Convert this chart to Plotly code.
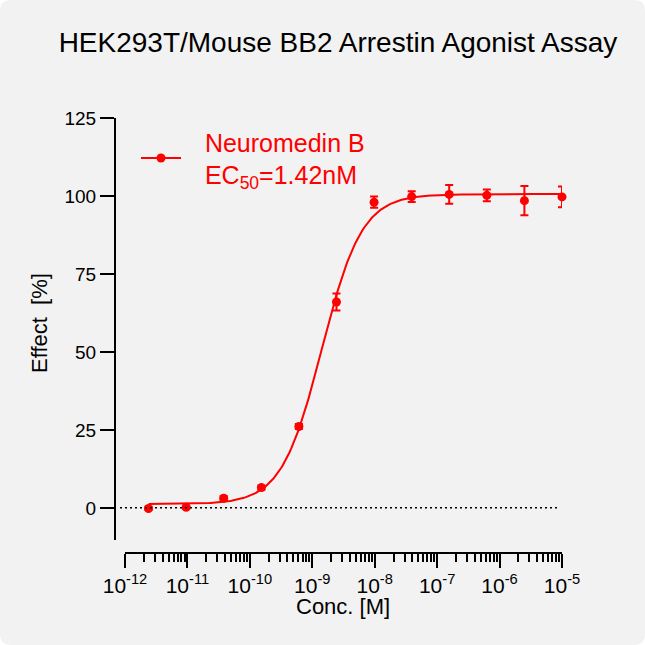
import numpy as np
import plotly.graph_objects as go

W = H = 645

# concentrations (M), 4-fold dilution series
conc = [2.38e-12, 9.54e-12, 3.81e-11, 1.53e-10, 6.10e-10, 2.44e-9,
        9.77e-9, 3.91e-8, 1.56e-7, 6.25e-7, 2.50e-6, 1.00e-5]
effect = [-0.2, 0.2, 3.1, 6.5, 26.1, 66.0, 98.0, 99.8, 100.5, 100.2, 98.5, 99.7]
effect_err = [0.5, 0.5, 0.7, 0.7, 0.8, 2.7, 1.8, 1.7, 3.0, 1.9, 4.7, 3.3]

# 4PL fit parameters (EC50 from the legend)
fit_bottom = 1.2
fit_top = 100.6
fit_ec50 = 1.42e-9
fit_hill = 1.35

pad = "\u00a0\u00a0\u2009"
legend_name = pad + "Neuromedin B<br>" + pad + "EC<sub>50</sub>=1.42nM"
y_ticks = [0, 25, 50, 75, 100, 125]
x_ticks = [1e-12, 1e-11, 1e-10, 1e-9, 1e-8, 1e-7, 1e-6, 1e-5]
x_ticktext = ["10<sup>-12</sup>", "10<sup>-11</sup>", "10<sup>-10</sup>",
              "10<sup>-9</sup>", "10<sup>-8</sup>", "10<sup>-7</sup>",
              "10<sup>-6</sup>", "10<sup>-5</sup>"]

RED = "#ff0000"
FONT = "Arial, Liberation Sans, sans-serif"


def px(x):
    # pixel -> paper x (margins are zero)
    return x / W


def py(y):
    # pixel -> paper y
    return 1 - y / H


x_fit = np.logspace(np.log10(conc[0]), np.log10(conc[-1]), 300)
y_fit = fit_bottom + (fit_top - fit_bottom) / (
    1 + 10 ** ((np.log10(fit_ec50) - np.log10(x_fit)) * fit_hill))

fig = go.Figure()

fig.add_trace(go.Scatter(
    x=x_fit, y=y_fit, mode="lines", cliponaxis=False,
    line=dict(color=RED, width=2), showlegend=False, hoverinfo="skip"))

fig.add_trace(go.Scatter(
    x=conc, y=effect, mode="markers", cliponaxis=False,
    marker=dict(color=RED, size=9),
    error_y=dict(type="data", array=effect_err, color=RED, thickness=2, width=4),
    showlegend=False))

# legend entry only
fig.add_trace(go.Scatter(
    x=[None], y=[None], mode="lines+markers", name=legend_name,
    line=dict(color=RED, width=2), marker=dict(color=RED, size=9)))

# rounded card background
r = 11
x0, y0, x1, y1 = px(0), py(0), px(W), py(H)
rx, ry = r / W, r / H
card = (f"M {x0+rx},{y0} L {x1-rx},{y0} Q {x1},{y0} {x1},{y0-ry} "
        f"L {x1},{y1+ry} Q {x1},{y1} {x1-rx},{y1} "
        f"L {x0+rx},{y1} Q {x0},{y1} {x0},{y1+ry} "
        f"L {x0},{y0-ry} Q {x0},{y0} {x0+rx},{y0} Z")

fig.update_layout(
    template="none",
    width=W, height=H,
    margin=dict(l=0, r=0, t=0, b=0, autoexpand=False),
    paper_bgcolor="white",
    plot_bgcolor="rgba(0,0,0,0)",
    font=dict(family=FONT, color="black"),
    title=dict(text="HEK293T/Mouse BB2 Arrestin Agonist Assay",
               font=dict(size=28, color="black"),
               xref="container", yref="container",
               x=338 / W, y=1 - 42 / H, xanchor="center", yanchor="middle"),
    shapes=[
        dict(type="path", path=card, xref="paper", yref="paper",
             fillcolor="#f2f2f2", line=dict(width=0), layer="below"),
        dict(type="line", xref="paper", yref="y", x0=px(120), x1=px(560),
             y0=0, y1=0, line=dict(color="black", width=1.5, dash="2px,3px")),
    ],
    legend=dict(x=px(136), y=py(119), xanchor="left", yanchor="top",
                bgcolor="rgba(0,0,0,0)", font=dict(size=25, color=RED),
                itemwidth=40),
    annotations=[
        dict(text="Effect\u00a0\u00a0[%]", xref="paper", yref="paper",
             x=px(39), y=py(323), textangle=-90, showarrow=False,
             font=dict(size=22), xanchor="center", yanchor="middle"),
        dict(text="Conc. [M]", xref="paper", yref="paper",
             x=px(343), y=py(606), showarrow=False,
             font=dict(size=22), xanchor="center", yanchor="middle"),
    ],
    xaxis=dict(
        type="log", range=[-12, -5], domain=[px(125), px(562)],
        anchor="free", position=py(553), automargin=False,
        showline=True, linecolor="black", linewidth=2,
        ticks="outside", ticklen=14, tickwidth=2, tickcolor="black",
        tickmode="array", tickvals=x_ticks, ticktext=x_ticktext,
        tickfont=dict(size=21),
        minor=dict(ticks="outside", ticklen=8, tickwidth=1.5,
                   tickcolor="black", dtick="D1", showgrid=False),
        showgrid=False, zeroline=False,
    ),
    yaxis=dict(
        range=[-10.3, 125], domain=[py(540), py(118)],
        anchor="free", position=px(115), automargin=False,
        showline=True, linecolor="black", linewidth=2,
        ticks="outside", ticklen=14, tickwidth=2, tickcolor="black",
        tickvals=y_ticks, tickfont=dict(size=19),
        showgrid=False, zeroline=False,
    ),
)

# drop the browser's default body margin so the 645px figure fills the window
fig.write_html("out.html", config={"displayModeBar": False},
               post_script="document.body.style.margin='0';")
